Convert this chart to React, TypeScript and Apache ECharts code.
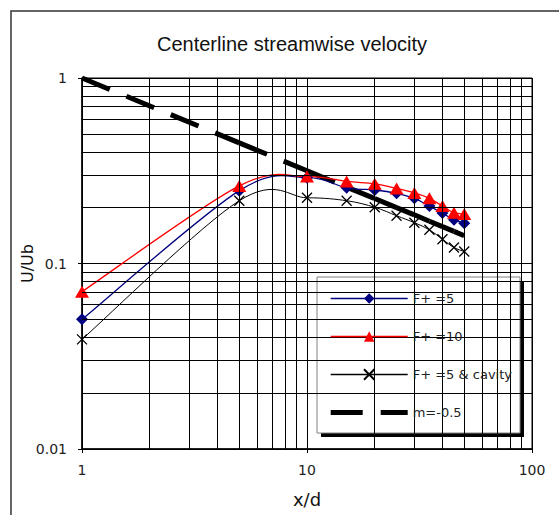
import React, { useEffect, useRef } from "react";
import * as echarts from "echarts";

// x/d stations
const xd = [1, 5, 10, 15, 20, 25, 30, 35, 40, 45, 50];
// U/Ub for each case
const f5 = [0.05, 0.247, 0.29, 0.256, 0.249, 0.239, 0.2245, 0.204, 0.187, 0.172, 0.165];
const f10 = [0.0705, 0.262, 0.294, 0.277, 0.269, 0.254, 0.24, 0.2245, 0.204, 0.188, 0.185];
const f5Cavity = [0.039, 0.218, 0.226, 0.218, 0.201, 0.181, 0.166, 0.152, 0.135, 0.122, 0.116];
// reference slope line m = -0.5
const mX = [1, 5, 10, 15, 20, 25, 30, 35, 40, 45, 50];
const mY = [1, 0.447, 0.316, 0.258, 0.224, 0.2, 0.183, 0.169, 0.158, 0.149, 0.141];

const xMinor = [2, 3, 4, 5, 6, 7, 8, 9, 20, 30, 40, 50, 60, 70, 80, 90];
const yMinor = [0.02, 0.03, 0.04, 0.05, 0.06, 0.07, 0.08, 0.09, 0.2, 0.3, 0.4, 0.5, 0.6, 0.7, 0.8, 0.9];

const legendNames = ["F+ =5", "F+ =10", "F+ =5 & cavity", "m=-0.5"];
const titleText = "Centerline streamwise velocity";

const FONT = "DejaVu Sans";
const curveYs = [f5, f10, f5Cavity];
const curveColors = ["#000080", "#ff0000", "#000"];
const curveWidths = [1.3, 1.3, 1];

export default function App() {
  const ref = useRef<HTMLDivElement>(null);
  useEffect(() => {
    document.body.style.margin = "0";
    const chart = echarts.init(ref.current!, undefined, { renderer: "svg" });
    const pairs = (ys: number[]) => xd.map((x, i) => [x, ys[i]]);

    const mSeries = mX.slice(0, -1).map((x, i) => ({
      type: "line",
      name: legendNames[3],
      data: [
        [x, mY[i]],
        [mX[i + 1], mY[i + 1]],
      ],
      symbol: "none",
      lineStyle: { color: "#000", width: 5, type: [30, 18], cap: "butt" },
      itemStyle: { color: "#000" },
      z: 2,
    }));

    // smoothed curves (Catmull-Rom style, as in spreadsheet smoothed lines)
    const curveSeries = {
      type: "custom",
      name: "curves",
      silent: true,
      z: 3,
      encode: { x: 0, y: 1 },
      data: curveYs.map(() => [1, 1]),
      renderItem: (params: any, api: any) => {
        const k = params.dataIndex;
        const ys = curveYs[k];
        const pts = xd.map((x, i) => api.coord([x, ys[i]]));
        let d = `M${pts[0][0]},${pts[0][1]}`;
        for (let i = 0; i < pts.length - 1; i++) {
          const p0 = pts[Math.max(i - 1, 0)];
          const p1 = pts[i];
          const p2 = pts[i + 1];
          const p3 = pts[Math.min(i + 2, pts.length - 1)];
          const c1x = p1[0] + (p2[0] - p0[0]) / 6;
          const c1y = p1[1] + (p2[1] - p0[1]) / 6;
          const c2x = p2[0] - (p3[0] - p1[0]) / 6;
          const c2y = p2[1] - (p3[1] - p1[1]) / 6;
          d += ` C${c1x},${c1y} ${c2x},${c2y} ${p2[0]},${p2[1]}`;
        }
        return {
          type: "path",
          shape: { pathData: d },
          style: { fill: "none", stroke: curveColors[k], lineWidth: curveWidths[k] },
        };
      },
    };

    const markerSeries = curveYs.map((ys, k) => {
      const base: any = {
        type: "line",
        name: legendNames[k],
        data: pairs(ys),
        lineStyle: { color: curveColors[k], width: curveWidths[k], opacity: 0 },
        z: 4,
      };
      if (k === 0) {
        base.symbol = "diamond";
        base.symbolSize = 12;
        base.itemStyle = { color: "#000080", borderWidth: 0 };
      } else if (k === 1) {
        base.symbol = "triangle";
        base.symbolSize = [14, 12];
        base.itemStyle = { color: "#ff0000", borderWidth: 0 };
      } else {
        base.symbol = "path://M0,0L10,10M10,0L0,10";
        base.symbolSize = 10;
        base.itemStyle = { color: "#000", borderColor: "#000", borderWidth: 1.3 };
      }
      return base;
    });

    const option: any = {
      animation: false,
      backgroundColor: "#fff",
      title: {
        text: titleText,
        left: 152,
        top: 29,
        textStyle: { fontFamily: "Liberation Sans", fontSize: 20, fontWeight: "normal", color: "#111" },
      },
      grid: { left: 82, top: 78, width: 450, height: 371, show: true, borderColor: "#000", borderWidth: 1, backgroundColor: "transparent", outerBoundsMode: "none" },
      xAxis: {
        type: "log",
        logBase: 10,
        min: 1,
        max: 100,
        name: "x/d",
        nameLocation: "middle",
        nameGap: 41,
        nameMoveOverlap: false,
        nameTextStyle: { fontFamily: FONT, fontSize: 18, color: "#111" },
        axisLine: { show: true, lineStyle: { color: "#000", width: 1.5 } },
        axisTick: { show: true, length: 4, lineStyle: { color: "#000" } },
        axisLabel: { margin: 14, fontFamily: FONT, fontSize: 14, color: "#222" },
        splitLine: { show: true, lineStyle: { color: "#000", width: 1 } },
        minorTick: { show: false },
        minorSplitLine: { show: false },
      },
      yAxis: {
        type: "log",
        logBase: 10,
        min: 0.01,
        max: 1,
        name: "U/Ub",
        nameLocation: "middle",
        nameGap: 47,
        nameMoveOverlap: false,
        nameTextStyle: { fontFamily: FONT, fontSize: 16, color: "#111" },
        axisLine: { show: true, lineStyle: { color: "#000", width: 1.5 } },
        axisTick: { show: true, length: 4, lineStyle: { color: "#000" } },
        axisLabel: { margin: 15, fontFamily: FONT, fontSize: 14, color: "#222" },
        splitLine: { show: true, lineStyle: { color: "#000", width: 1 } },
        minorTick: { show: false },
        minorSplitLine: { show: false },
      },
      legend: {
        data: [
          { name: legendNames[0], lineStyle: { color: curveColors[0], width: 1.4, opacity: 1 } },
          { name: legendNames[1], lineStyle: { color: curveColors[1], width: 1.4, opacity: 1 } },
          { name: legendNames[2], lineStyle: { color: "#000", width: 1.3, opacity: 1, type: "solid" } },
          { name: legendNames[3], icon: "path://M0,0H32V5H0Z M50,0H77V5H50Z", itemStyle: { color: "#000" } },
        ],
        orient: "vertical",
        left: 317,
        top: 277,
        padding: [15, 8, 15, 13],
        itemWidth: 77,
        itemHeight: 13,
        itemGap: 25,
        selectedMode: false,
        backgroundColor: "transparent",
        textStyle: { fontFamily: FONT, fontSize: 13, color: "#222", lineHeight: 13 },
        z: 6,
      },
      graphic: [
        { type: "rect", z: 0, silent: true, shape: { x: 11, y: 11, width: 700, height: 700 }, style: { fill: "none", stroke: "#333", lineWidth: 1.5 } },
        { type: "rect", z: 5, silent: true, shape: { x: 321, y: 281, width: 203, height: 156 }, style: { fill: "#000" } },
        { type: "rect", z: 5, silent: true, shape: { x: 317, y: 277, width: 203, height: 156 }, style: { fill: "#fff", stroke: "#808080", lineWidth: 1 } },
      ],
      series: [
        {
          type: "line",
          name: "minor-grid",
          data: [],
          silent: true,
          markLine: {
            silent: true,
            symbol: ["none", "none"],
            label: { show: false },
            lineStyle: { color: "#000", width: 1, type: "solid" },
            emphasis: { disabled: true },
            data: [...xMinor.map((v) => ({ xAxis: v })), ...yMinor.map((v) => ({ yAxis: v }))],
          },
          z: 1,
        },
        ...mSeries,
        curveSeries,
        ...markerSeries,
      ],
    };
    chart.setOption(option);
    return () => chart.dispose();
  }, []);
  return <div ref={ref} style={{ position: "absolute", left: 0, top: 0, width: 559, height: 515 }} />;
}
